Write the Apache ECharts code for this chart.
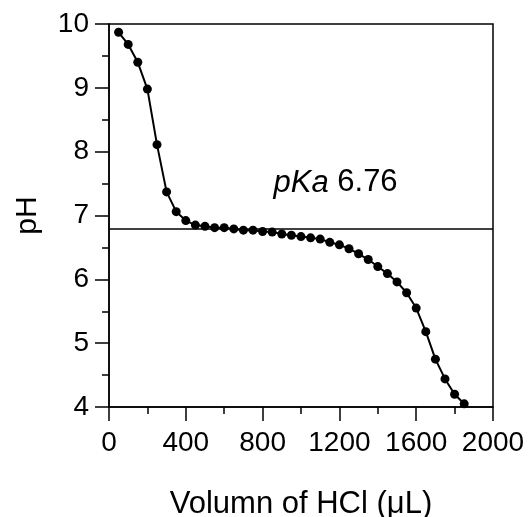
<!DOCTYPE html>
<html>
<head>
<meta charset="utf-8">
<script src="https://cdn.jsdelivr.net/npm/echarts@6/dist/echarts.min.js"></script>
<style>
  html, body { margin: 0; padding: 0; background: #fff; }
  #main { width: 531px; height: 517px; }
</style>
</head>
<body>
<div id="main"></div>
<script>
// titration data, HCl added (uL) vs pH
var volumes = [50, 100, 150, 200, 250, 300, 350, 400, 450, 500, 550, 600, 650, 700, 750, 800, 850, 900, 950,
    1000, 1050, 1100, 1150, 1200, 1250, 1300, 1350, 1400, 1450, 1500, 1550, 1600, 1650, 1700, 1750, 1800, 1850];
var phValues = [9.87, 9.68, 9.40, 8.98, 8.11, 7.37, 7.06, 6.92, 6.85, 6.83, 6.81, 6.81, 6.79, 6.77, 6.77, 6.75, 6.74, 6.71, 6.69,
    6.67, 6.65, 6.63, 6.58, 6.54, 6.48, 6.40, 6.31, 6.20, 6.09, 5.96, 5.79, 5.55, 5.18, 4.75, 4.44, 4.20, 4.05];
var pkaLine = 6.80;
var pkaText = '6.76';
var xTicks = [0, 400, 800, 1200, 1600, 2000];
var yTicks = [4, 5, 6, 7, 8, 9, 10];

var chart = echarts.init(document.getElementById('main'));

var points = volumes.map(function (v, i) { return [v, phValues[i]]; });
var font = '"Liberation Sans", Arial, sans-serif';

var option = {
    animation: false,
    grid: {
        left: 109,
        right: 38,
        top: 24,
        bottom: 110,
        containLabel: false,
        outerBoundsMode: 'none',
        show: true,
        borderColor: '#000',
        borderWidth: 1.5
    },
    xAxis: {
        type: 'value',
        min: xTicks[0],
        max: xTicks[xTicks.length - 1],
        interval: 400,
        name: 'Volumn of HCl (\u03bcL)',
        nameLocation: 'middle',
        nameGap: 82,
        nameTextStyle: { fontFamily: font, fontSize: 31, color: '#000' },
        axisLine: { lineStyle: { color: '#000', width: 1.5 } },
        axisTick: { length: 14, lineStyle: { color: '#000', width: 1.5 } },
        minorTick: { show: true, splitNumber: 2, length: 7, lineStyle: { color: '#000', width: 1.5 } },
        splitLine: { show: false },
        axisLabel: {
            margin: 22, fontFamily: font, fontSize: 28, color: '#000',
            formatter: function (v) { return String(v); }
        }
    },
    yAxis: {
        type: 'value',
        min: yTicks[0],
        max: yTicks[yTicks.length - 1],
        interval: 1,
        name: 'pH',
        nameLocation: 'middle',
        nameGap: 66,
        nameRotate: 90,
        nameTextStyle: { fontFamily: font, fontSize: 30, color: '#000' },
        axisLine: { show: true, lineStyle: { color: '#000', width: 1.5 } },
        axisTick: { show: true, length: 14, lineStyle: { color: '#000', width: 1.5 } },
        minorTick: { show: true, splitNumber: 2, length: 7, lineStyle: { color: '#000', width: 1.5 } },
        splitLine: { show: false },
        axisLabel: {
            margin: 20, fontFamily: font, fontSize: 28, color: '#000',
            formatter: function (v) { return String(v); }
        }
    },
    series: [{
        type: 'line',
        data: points,
        symbol: 'circle',
        symbolSize: 9,
        showAllSymbol: true,
        itemStyle: { color: '#000' },
        lineStyle: { color: '#000', width: 2 },
        markLine: {
            silent: true,
            symbol: 'none',
            label: { show: false },
            lineStyle: { color: '#000', width: 1.5, type: 'solid' },
            data: [{ yAxis: pkaLine }]
        },
        markPoint: {
            silent: true,
            symbol: 'circle',
            symbolSize: 0,
            data: [{ coord: [1180, 7.51] }],
            label: {
                show: true,
                position: 'inside',
                formatter: '{i|pKa}{n| ' + pkaText + '}',
                rich: {
                    i: { fontFamily: font, fontSize: 31, fontStyle: 'italic', color: '#000' },
                    n: { fontFamily: font, fontSize: 31, color: '#000' }
                }
            }
        }
    }]
};

chart.setOption(option);
</script>
</body>
</html>
